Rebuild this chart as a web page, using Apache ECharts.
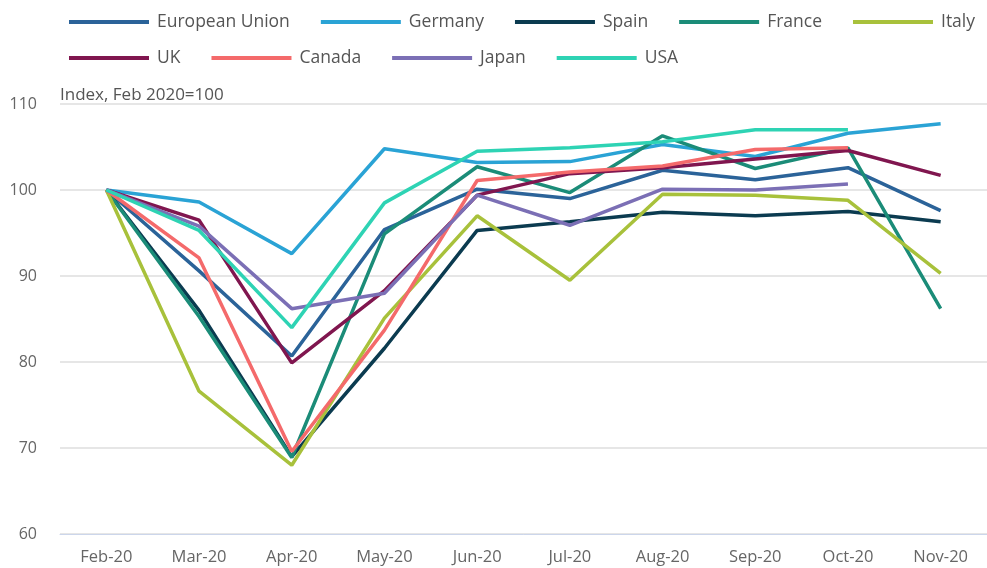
<!DOCTYPE html>
<html>
<head>
<meta charset="utf-8">
<script src="https://cdn.jsdelivr.net/npm/echarts@6/dist/echarts.min.js"></script>
<style>
  html, body { margin: 0; padding: 0; background: #fff; }
  #chart { width: 987px; height: 568px; }
</style>
</head>
<body>
<div id="chart"></div>
<script>
// 月份
const months = ["Feb-20", "Mar-20", "Apr-20", "May-20", "Jun-20", "Jul-20", "Aug-20", "Sep-20", "Oct-20", "Nov-20"];

// Index, Feb 2020=100
const euValues      = [100, 90.6, 80.7, 95.4, 100.1, 99.0, 102.3, 101.2, 102.6, 97.6];
const germanyValues = [100, 98.6, 92.6, 104.8, 103.2, 103.3, 105.3, 103.9, 106.6, 107.7];
const spainValues   = [100, 86.0, 69.0, 81.6, 95.3, 96.3, 97.4, 97.0, 97.5, 96.3];
const franceValues  = [100, 85.3, 68.9, 94.9, 102.7, 99.7, 106.3, 102.5, 104.9, 86.2];
const italyValues   = [100, 76.6, 68.0, 85.1, 97.0, 89.5, 99.5, 99.4, 98.8, 90.3];
const ukValues      = [100, 96.5, 79.9, 88.3, 99.4, 101.9, 102.6, 103.6, 104.6, 101.7];
const canadaValues  = [100, 92.1, 69.6, 83.7, 101.1, 102.1, 102.8, 104.7, 104.9, null];
const japanValues   = [100, 95.8, 86.2, 88.0, 99.4, 95.9, 100.1, 100.0, 100.7, null];
const usaValues     = [100, 95.3, 84.0, 98.5, 104.5, 104.9, 105.6, 107.0, 107.0, null];

const yTicks = [60, 70, 80, 90, 100, 110];

// 图例分两行
const legendRow1 = ["European Union", "Germany", "Spain", "France", "Italy"];
const legendRow2 = ["UK", "Canada", "Japan", "USA"];

const chart = echarts.init(document.getElementById("chart"));

function line(name, data, color) {
  return {
    name: name,
    type: "line",
    data: data,
    color: color,
    symbol: "none",
    lineStyle: { width: 3.5, color: color },
    emphasis: { disabled: true },
    animation: false
  };
}

function legend(names, top) {
  return {
    data: names,
    left: 64,
    top: top,
    icon: "rect",
    itemWidth: 80,
    itemHeight: 4,
    itemGap: 31,
    textStyle: { color: "#555", fontSize: 17.5, fontFamily: "Open Sans", padding: [0, 0, 0, 3] }
  };
}

const option = {
  backgroundColor: "#fff",
  textStyle: { fontFamily: "Open Sans" },
  legend: [legend(legendRow1, 8), legend(legendRow2, 44)],
  grid: { left: 60, top: 104, bottom: 34, width: 937 },
  xAxis: {
    type: "category",
    data: months,
    boundaryGap: true,
    axisLine: { lineStyle: { color: "#ccd6eb", width: 1 } },
    axisTick: { alignWithLabel: true, length: 10, lineStyle: { color: "#ccd6eb" } },
    axisLabel: { color: "#666", fontSize: 16.5, margin: 15, fontFamily: "Open Sans" }
  },
  yAxis: {
    type: "value",
    min: yTicks[0],
    max: yTicks[yTicks.length - 1],
    interval: 10,
    name: "Index, Feb 2020=100",
    nameLocation: "end",
    nameGap: 0,
    nameTextStyle: { align: "left", verticalAlign: "bottom", color: "#555", fontSize: 17, fontFamily: "Open Sans" },
    axisLine: { show: false },
    axisTick: { show: false },
    axisLabel: { color: "#666", fontSize: 16, margin: 23, fontFamily: "Open Sans" },
    splitLine: { lineStyle: { color: "#e6e6e6", width: 2 } }
  },
  series: [
    line("European Union", euValues, "#2b6399"),
    line("Germany", germanyValues, "#2aa3d5"),
    line("Spain", spainValues, "#0b3b50"),
    line("France", franceValues, "#1b8c78"),
    line("Italy", italyValues, "#a8c13b"),
    line("UK", ukValues, "#80164f"),
    line("Canada", canadaValues, "#f46a6b"),
    line("Japan", japanValues, "#7b6fb5"),
    line("USA", usaValues, "#2ed3b4")
  ]
};

chart.setOption(option);
</script>
</body>
</html>
